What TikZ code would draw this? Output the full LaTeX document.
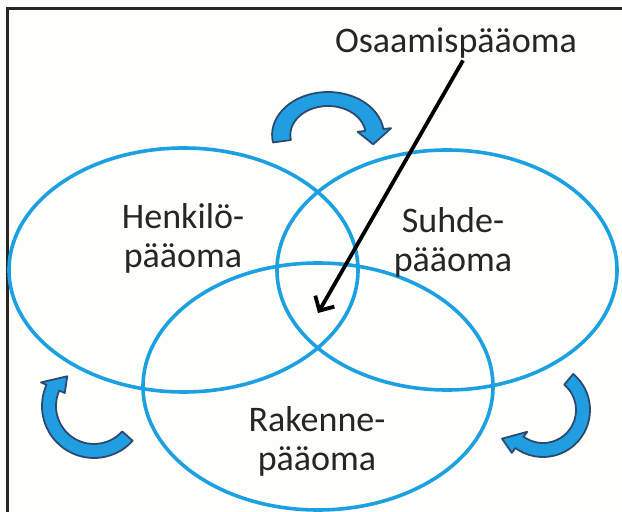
\documentclass[tikz,border=0pt]{standalone}
\usepackage{fontspec}
\setmainfont{Carlito}
\usetikzlibrary{arrows.meta}

\definecolor{ringblue}{RGB}{27,161,226}
\definecolor{turnfill}{RGB}{33,158,226}
\definecolor{turnline}{RGB}{44,74,112}
\definecolor{paper}{RGB}{254,254,250}

\newcommand{\bentarrow}[5]{%
 \filldraw[turn] ({#2}:{#1+7}) arc[start angle=#2, end angle=#3, radius=#1+7]
  -- ({#3}:{#1+13}) -- ({#4}:{#5}) -- ({#3}:{#1-13}) -- ({#3}:{#1-7})
  arc[start angle=#3, end angle=#2, radius=#1-7] -- cycle;}

\begin{document}
\begin{tikzpicture}[x=1pt, y=1pt,
 ring/.style={draw=ringblue, line width=3.6pt},
 turn/.style={fill=turnfill, draw=turnline, line width=1.8pt, line join=round},
 lbl/.style={font=\fontsize{36}{39}\selectfont, align=center, inner sep=0pt, text=black!85},
 pointer/.style={-{Straight Barb[length=11pt, width=22pt]}, line width=3.8pt, black}]
\fill[paper] (0,0) rectangle (622,512);
\useasboundingbox (0,0) rectangle (622,512);
\draw[line width=3pt, black!85] (7,0) -- (7,503) -- (622,503);
\draw[ring] (183.5,242) ellipse [x radius=174.5, y radius=122];
\draw[ring] (447,242) ellipse [x radius=170, y radius=120];
\draw[ring] (318,125.5) ellipse [x radius=175, y radius=123.5];
\begin{scope}[shift={(328,377)}, xscale=1.3]
\bentarrow{36}{190}{8}{-15}{36}
\end{scope}
\begin{scope}[shift={(94,106)}]
\bentarrow{45}{-42}{-204}{-228}{40}
\end{scope}
\begin{scope}[shift={(543,102)}]
\bentarrow{40}{50}{-126}{-145}{50}
\end{scope}
\node[lbl] (henkilo) at (183,274) {Henkilö-\\pääoma};
\node[lbl] (suhde) at (453,270) {Suhde-\\pääoma};
\node[lbl] (rakenne) at (317,71) {Rakenne-\\pääoma};
\node[lbl] (osaamis) at (456,469) {Osaamispääoma};
\coordinate (ydin) at (318,199);
\draw[pointer] ([xshift=7pt, yshift=-2pt]osaamis.south) -- (ydin);
\end{tikzpicture}
\end{document}
